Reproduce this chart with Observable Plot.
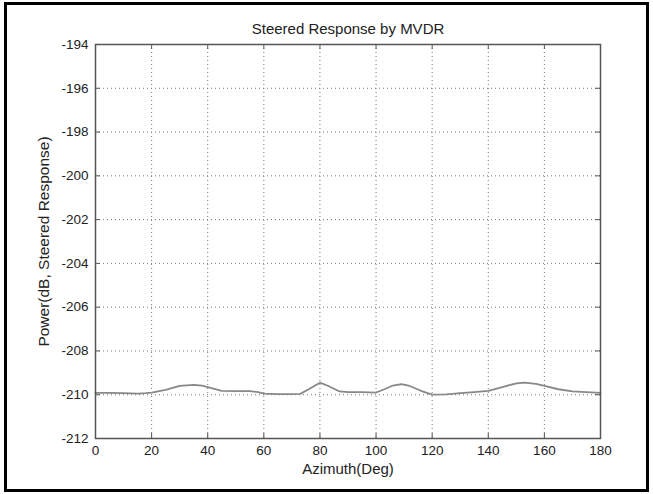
<!DOCTYPE html>
<html>
<head>
<meta charset="utf-8">
<script src="https://cdn.jsdelivr.net/npm/d3@7"></script>
<script src="https://cdn.jsdelivr.net/npm/@observablehq/plot@0.6"></script>
<style>
  html, body { margin: 0; padding: 0; background: #fff; }
  #wrap { position: relative; width: 653px; height: 494px; overflow: hidden; }
  #border { position: absolute; left: 4px; top: 2px; width: 645px; height: 490px; border: 3px solid #000; box-sizing: border-box; pointer-events: none; }
</style>
</head>
<body>
<div id="wrap"><div id="border"></div></div>
<script>
const titleText = "Steered Response by MVDR";
const xLabel = "Azimuth(Deg)";
const yLabel = "Power(dB, Steered Response)";
const xTicks = [0, 20, 40, 60, 80, 100, 120, 140, 160, 180];
const yTicks = [-212, -210, -208, -206, -204, -202, -200, -198, -196, -194];

const azimuth = [0, 5, 10, 15, 18, 20, 25, 30, 35, 38, 42, 45, 50, 55, 58, 60, 65, 70, 73, 76, 80, 83, 87, 90, 95, 100, 103, 106, 109, 112, 116, 120, 125, 130, 135, 140, 145, 150, 153, 157, 160, 165, 170, 175, 180];
const power = [-209.92, -209.92, -209.93, -209.95, -209.93, -209.9, -209.78, -209.6, -209.55, -209.58, -209.72, -209.82, -209.84, -209.84, -209.88, -209.95, -209.97, -209.97, -209.96, -209.75, -209.45, -209.6, -209.85, -209.88, -209.88, -209.9, -209.75, -209.58, -209.52, -209.6, -209.82, -210.0, -209.98, -209.93, -209.88, -209.82, -209.65, -209.48, -209.45, -209.5, -209.6, -209.75, -209.85, -209.88, -209.92];

const data = azimuth.map((a, i) => ({azimuth: a, power: power[i]}));

const W = 653, H = 494;
const mL = 95, mR = 53, mT = 44, mB = 56;
const pw = W - mL - mR, ph = H - mT - mB;
const axisColor = "#555";
const tickLen = 5;

const chart = Plot.plot({
  width: W,
  height: H,
  marginLeft: mL,
  marginRight: mR,
  marginTop: mT,
  marginBottom: mB,
  style: {fontFamily: "'Liberation Sans', Arial, sans-serif", fontSize: "13px", color: "#222", background: "transparent"},
  x: {domain: [0, 180]},
  y: {domain: [-212, -194]},
  marks: [
    Plot.gridX(xTicks, {stroke: "#777", strokeOpacity: 1, strokeDasharray: "1,3"}),
    Plot.gridY(yTicks, {stroke: "#777", strokeOpacity: 1, strokeDasharray: "1,3"}),
    Plot.line(data, {x: "azimuth", y: "power", stroke: "#888", strokeWidth: 1.8}),
    Plot.frame({stroke: axisColor, strokeWidth: 1.5}),
    Plot.ruleX(xTicks, {x: d => d, insetTop: ph - tickLen, stroke: axisColor}),
    Plot.ruleX(xTicks, {x: d => d, insetBottom: ph - tickLen, stroke: axisColor}),
    Plot.ruleY(yTicks, {y: d => d, insetRight: pw - tickLen, stroke: axisColor}),
    Plot.ruleY(yTicks, {y: d => d, insetLeft: pw - tickLen, stroke: axisColor}),
    Plot.axisX(xTicks, {tickSize: 0, tickPadding: 7, fontSize: 13.5, label: null, tickFormat: d => String(d)}),
    Plot.axisY(yTicks, {tickSize: 0, tickPadding: 7, fontSize: 13.5, label: null, tickFormat: d => String(d).replace("\u2212", "-")}),
    Plot.text([xLabel], {text: d => d, frameAnchor: "bottom", textAnchor: "middle", lineAnchor: "middle", dy: 31, fontSize: 15, fill: "#222"}),
    Plot.text([yLabel], {text: d => d, frameAnchor: "left", textAnchor: "middle", lineAnchor: "middle", dx: -51, rotate: -90, fontSize: 15.5, fill: "#222"}),
    Plot.text([titleText], {text: d => d, frameAnchor: "top", textAnchor: "middle", lineAnchor: "middle", dy: -15, fontSize: 15, fill: "#222"})
  ]
});
document.getElementById("wrap").prepend(chart);
</script>
</body>
</html>
